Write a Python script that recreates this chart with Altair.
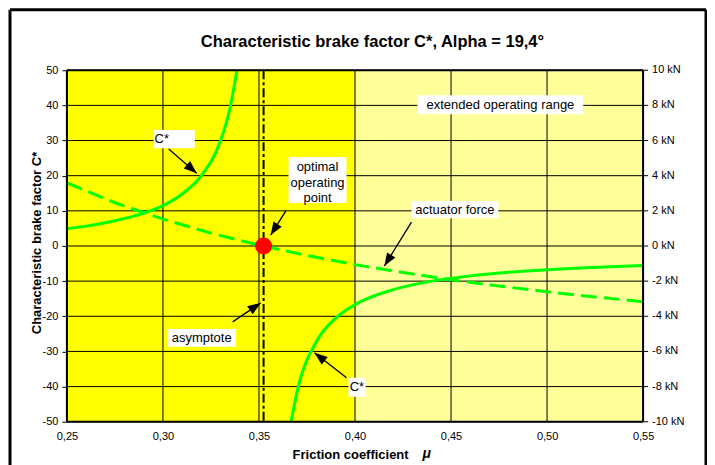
import altair as alt
import pandas as pd
import numpy as np

# ---------------- data ----------------
TITLE = "Characteristic brake factor C*, Alpha = 19,4°"
Y_TITLE = "Characteristic brake factor C*"
X_TITLE = "Friction coefficient"
X_TITLE_SYM = "μ"

x_ticks = [0.25, 0.30, 0.35, 0.40, 0.45, 0.50, 0.55]
y_ticks = [-50, -40, -30, -20, -10, 0, 10, 20, 30, 40, 50]
y2_ticks = [-10, -8, -6, -4, -2, 0, 2, 4, 6, 8, 10]      # kN, right axis
KN_TO_LEFT = 5.0                                          # 10 kN  <->  C* = 50

zone_start = [0.25, 0.40]
zone_end = [0.40, 0.55]
zone_colors = ["#FFFF00", "#FFFF99"]

# C* curve, left branch (below asymptote) and right branch
mu_left = [0.25, 0.26, 0.27, 0.28, 0.29, 0.30, 0.31, 0.32, 0.33, 0.335, 0.3385]
c_left = [4.9, 5.65, 6.6, 7.8, 9.35, 11.5, 14.8, 20.0, 30.0, 39.4, 50.0]
mu_right = [0.3667, 0.37, 0.38, 0.39, 0.40, 0.42, 0.44, 0.46, 0.48, 0.50, 0.52, 0.55]
c_right = [-50.0, -41.1, -27.1, -20.5, -16.7, -12.4, -10.0, -8.5, -7.5, -6.76, -6.19, -5.56]

# actuator force (kN, right axis)
mu_force = [0.25, 0.275, 0.30, 0.325, 0.35, 0.375, 0.40, 0.425, 0.45, 0.475, 0.50, 0.525, 0.55]
force_kn = [3.59, 2.46, 1.53, 0.73, 0.05, -0.54, -1.06, -1.51, -1.92, -2.28, -2.60, -2.90, -3.17]

asymptote_mu = [0.3524]
optimum_mu = [0.3524]
optimum_c = [0.0]

# annotation boxes (data units); text position = first line
labels = ["C*", "optimal\noperating\npoint", "actuator force", "asymptote", "C*", "extended operating range"]
text_mu = [0.2994, 0.3805, 0.4520, 0.3202, 0.4010, 0.4757]
text_c = [30.4, 22.4, 10.3, -26.1, -40.2, 40.2]
box_mu0 = [0.2952, 0.3654, 0.4294, 0.3025, 0.3966, 0.4325]
box_mu1 = [0.3166, 0.3956, 0.4746, 0.3379, 0.4055, 0.5188]
box_c0 = [27.8, 12.2, 7.9, -28.7, -42.9, 37.5]
box_c1 = [33.0, 25.3, 12.8, -23.6, -37.5, 42.9]

# annotation arrows: start -> tip (data units)
arrow_mu0 = [0.3030, 0.3639, 0.4294, 0.3363, 0.3956]
arrow_c0 = [27.6, 9.9, 6.8, -21.6, -37.5]
arrow_mu1 = [0.3176, 0.3561, 0.4153, 0.3509, 0.3789]
arrow_c1 = [20.7, 3.1, -5.7, -16.2, -30.4]

# ---------------- layout ----------------
FONT = "Liberation Sans"
W, H = 577, 352
PAD = {"left": 59, "top": 62, "right": 64, "bottom": 43}
GREEN = "#00FF00"
ARROW_PATH = "M0,0L-0.75,2L0.75,2Z"

xs = alt.Scale(domain=[0.25, 0.55], nice=False, zero=False)
ys = alt.Scale(domain=[-50, 50], nice=False, zero=False)

x_axis = alt.Axis(values=x_ticks, labelExpr="replace(format(datum.value, '.2f'), '.', ',')",
                  ticks=False, labelPadding=9, domain=False, grid=False, title="",
                  labelFont=FONT, labelFontSize=11, labelColor="#000", zindex=1,
                  labelFlush=False, labelOverlap=False)
y_axis = alt.Axis(values=y_ticks, labelExpr="'' + datum.value", tickSize=5, tickColor="#000",
                  tickWidth=1, labelPadding=4, domain=False, grid=False, title="",
                  labelFont=FONT, labelFontSize=11, labelColor="#000", zindex=1,
                  labelFlush=False, labelOverlap=False)

zones_df = pd.DataFrame({"x0": zone_start, "x1": zone_end, "fill": zone_colors})
curve_df = pd.DataFrame({
    "mu": mu_left + mu_right,
    "c": c_left + c_right,
    "branch": ["left"] * len(mu_left) + ["right"] * len(mu_right),
})
force_df = pd.DataFrame({"mu": mu_force, "f": force_kn})
force_df["f_left"] = force_df["f"] * KN_TO_LEFT
r_axis_df = pd.DataFrame({"kn": y2_ticks})
r_axis_df["v"] = r_axis_df["kn"] * KN_TO_LEFT
r_axis_df["lab"] = [f"{k} kN" for k in y2_ticks]
box_df = pd.DataFrame({"m0": box_mu0, "m1": box_mu1, "c0": box_c0, "c1": box_c1})
text_df = pd.DataFrame({"mu": text_mu, "c": text_c, "t": labels})
arrow_df = pd.DataFrame({"m0": arrow_mu0, "c0": arrow_c0, "m1": arrow_mu1, "c1": arrow_c1})
dx = (arrow_df["m1"] - arrow_df["m0"]) * W / 0.30
dy = -(arrow_df["c1"] - arrow_df["c0"]) * H / 100.0
arrow_df["ang"] = (np.degrees(np.arctan2(dx, -dy)) + 360.0) % 360.0
one = pd.DataFrame({"t": [TITLE]})


def X(f):
    return alt.X(f, scale=xs, axis=x_axis)


def Y(f):
    return alt.Y(f, scale=ys, axis=y_axis)


zones = alt.Chart(zones_df).mark_rect().encode(
    x=X("x0:Q"), x2="x1:Q",
    y=alt.value(0), y2=alt.value(H),
    color=alt.Color("fill:N", scale=None),
)
vgrid = alt.Chart(pd.DataFrame({"v": x_ticks})).mark_rule(color="#000", strokeWidth=1).encode(
    x=X("v:Q"))
hgrid = alt.Chart(pd.DataFrame({"v": y_ticks})).mark_rule(color="#000", strokeWidth=1).encode(
    y=Y("v:Q"))
asym = alt.Chart(pd.DataFrame({"v": asymptote_mu})).mark_rule(
    color="#000", strokeWidth=2, strokeDash=[9, 3, 3, 3]).encode(x=X("v:Q"))
curves = alt.Chart(curve_df).mark_line(color=GREEN, strokeWidth=3, interpolate="monotone").encode(
    x=X("mu:Q"), y=Y("c:Q"), detail="branch:N")
force = alt.Chart(force_df).mark_line(color=GREEN, strokeWidth=3, strokeDash=[16, 7]).encode(
    x=X("mu:Q"), y=Y("f_left:Q"))

# right axis (kN) drawn on the same scale
r_ticks = alt.Chart(r_axis_df).mark_rule(color="#000", strokeWidth=1).encode(
    x=alt.value(W), x2=alt.value(W + 5), y=Y("v:Q"))
r_labels = alt.Chart(r_axis_df).mark_text(font=FONT, fontSize=11, color="#000", align="left",
                                          baseline="middle").encode(
    x=alt.value(W + 9), y=Y("v:Q"), text="lab:N")

border_v = alt.Chart(pd.DataFrame({"v": [0.25, 0.55]})).mark_rule(color="#000", strokeWidth=2).encode(
    x=X("v:Q"))
border_h = alt.Chart(pd.DataFrame({"v": [-50, 50]})).mark_rule(color="#000", strokeWidth=2).encode(
    y=Y("v:Q"))
dot = alt.Chart(pd.DataFrame({"mu": optimum_mu, "c": optimum_c})).mark_circle(
    color="#FF0000", size=290, opacity=1).encode(x=X("mu:Q"), y=Y("c:Q"))
boxes = alt.Chart(box_df).mark_rect(color="white").encode(
    x=X("m0:Q"), x2="m1:Q", y=Y("c0:Q"), y2="c1:Q")
texts = alt.Chart(text_df).mark_text(font=FONT, fontSize=13, color="#000", lineBreak="\n",
                                     lineHeight=15.5, baseline="middle", align="center").encode(
    x=X("mu:Q"), y=Y("c:Q"), text="t:N")
arrows = alt.Chart(arrow_df).mark_rule(color="#000", strokeWidth=1.3).encode(
    x=X("m0:Q"), x2="m1:Q", y=Y("c0:Q"), y2="c1:Q")
heads = alt.Chart(arrow_df).mark_point(shape=ARROW_PATH, filled=True, color="#000", size=169,
                                       opacity=1, strokeWidth=0).encode(
    x=X("m1:Q"), y=Y("c1:Q"), angle=alt.Angle("ang:Q", scale=None))

# titles and outer frame
title = alt.Chart(one).mark_text(font=FONT, fontSize=16.5, fontWeight="bold", color="#000",
                                 align="center", baseline="middle").encode(
    x=alt.value(306), y=alt.value(-28), text="t:N")
ytitle = alt.Chart(pd.DataFrame({"t": [Y_TITLE]})).mark_text(
    font=FONT, fontSize=13, fontWeight="bold", color="#000", angle=270,
    align="center", baseline="middle").encode(x=alt.value(-30), y=alt.value(173), text="t:N")
xtitle = alt.Chart(pd.DataFrame({"t": [X_TITLE]})).mark_text(
    font=FONT, fontSize=13, fontWeight="bold", color="#000",
    align="left", baseline="middle").encode(x=alt.value(226), y=alt.value(385), text="t:N")
xsym = alt.Chart(pd.DataFrame({"t": [X_TITLE_SYM]})).mark_text(
    font=FONT, fontSize=14, fontWeight="bold", fontStyle="italic", color="#000",
    align="left", baseline="middle").encode(x=alt.value(356), y=alt.value(384), text="t:N")
frame_l = alt.Chart(one).mark_rule(color="#000", strokeWidth=3).encode(
    x=alt.value(-57), y=alt.value(-60.5), y2=alt.value(400))
frame_r = alt.Chart(one).mark_rule(color="#000", strokeWidth=3).encode(
    x=alt.value(640), y=alt.value(-60.5), y2=alt.value(400))
frame_t = alt.Chart(one).mark_rule(color="#000", strokeWidth=3).encode(
    x=alt.value(-57), x2=alt.value(640), y=alt.value(-60.5))

chart = alt.layer(
    zones, vgrid, hgrid, asym, curves, force, r_ticks, r_labels,
    border_v, border_h, dot, boxes, texts, arrows, heads,
    title, ytitle, xtitle, xsym, frame_l, frame_r, frame_t,
).properties(
    width=W, height=H,
    padding=PAD,
    autosize=alt.AutoSizeParams(type="none"),
    background="white",
).configure_view(stroke=None)

chart.save("out.html", embed_options={"renderer": "svg", "actions": False})
